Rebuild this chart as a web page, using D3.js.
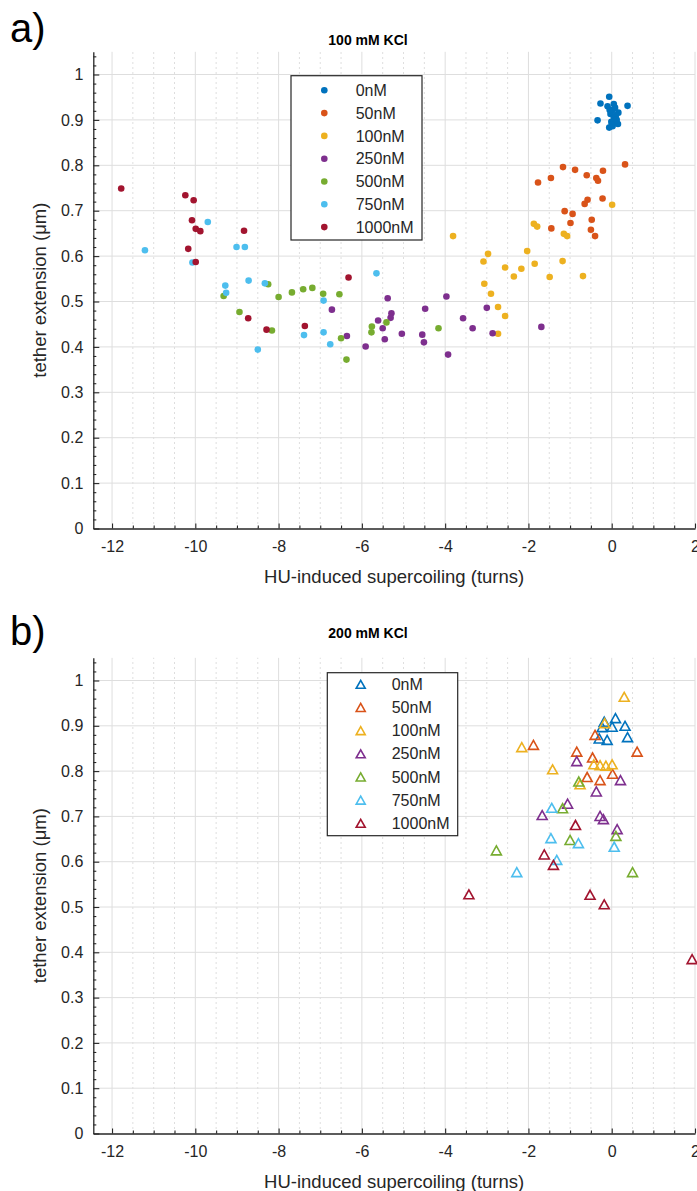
<!DOCTYPE html>
<html><head><meta charset="utf-8">
<script src="https://cdn.jsdelivr.net/npm/d3@7"></script>
<style>
html,body{margin:0;padding:0;background:#fff;}
svg{display:block;}
text{font-family:"Liberation Sans",Arial,Helvetica,sans-serif;}
</style></head>
<body>
<svg id="chart" width="697" height="1191"></svg>
<script>
// ---------- data ----------
const seriesNames = ["0nM","50nM","100nM","250nM","500nM","750nM","1000nM"];
const seriesColors = ["#0072BD","#D95319","#EDB120","#7E2F8E","#77AC30","#4DBEEE","#A2142F"];
const xTicks = [-12,-10,-8,-6,-4,-2,0,2];
const yTicks = [0,0.1,0.2,0.3,0.4,0.5,0.6,0.7,0.8,0.9,1];
const titles = ["100 mM KCl","200 mM KCl"];
const panelLabels = ["a)","b)"];
const xLabel = "HU-induced supercoiling (turns)";
const yLabel = "tether extension (μm)";

// Panel a (100 mM KCl), dots
const a0 = [[-0.06,0.951],[-0.27,0.936],[-0.10,0.930],[0.05,0.935],[0.38,0.931],[0.02,0.921],[0.16,0.916],[-0.03,0.913],[0.05,0.905],[-0.34,0.899],[0.07,0.898],[0.15,0.891],[-0.06,0.883],[0.02,0.886],[-0.01,0.896],[0.10,0.910],[-0.05,0.922],[0.12,0.900],[0.0,0.889],[0.08,0.927]];
const a50 = [[0.32,0.802],[-1.17,0.796],[-0.88,0.790],[-0.21,0.788],[-0.60,0.778],[-1.46,0.772],[-0.37,0.772],[-0.33,0.766],[-1.77,0.762],[-0.58,0.724],[-0.65,0.715],[-0.22,0.727],[-1.13,0.699],[-0.94,0.693],[-0.48,0.680],[-0.99,0.673],[-1.45,0.661],[-0.50,0.658],[-0.40,0.644]];
const a100 = [[0.01,0.713],[-1.87,0.671],[-1.79,0.665],[-1.15,0.649],[-1.07,0.644],[-3.81,0.644],[-2.97,0.605],[-3.08,0.588],[-2.03,0.611],[-2.56,0.575],[-2.17,0.572],[-1.85,0.583],[-2.35,0.555],[-1.49,0.554],[-1.18,0.589],[-0.69,0.556],[-3.06,0.539],[-2.90,0.517],[-2.73,0.488],[-2.56,0.468],[-2.73,0.429]];
const a250 = [[-6.72,0.482],[-6.36,0.424],[-5.91,0.401],[-5.38,0.507],[-5.61,0.458],[-5.50,0.441],[-5.45,0.417],[-5.29,0.474],[-5.31,0.464],[-5.04,0.429],[-4.55,0.427],[-4.51,0.410],[-4.48,0.484],[-3.97,0.511],[-3.93,0.383],[-3.57,0.463],[-3.34,0.441],[-3.00,0.486],[-2.86,0.430],[-1.69,0.444]];
const a500 = [[-9.32,0.512],[-8.25,0.538],[-8.00,0.510],[-7.68,0.520],[-7.41,0.527],[-7.19,0.530],[-6.93,0.517],[-6.54,0.516],[-8.94,0.477],[-8.16,0.436],[-6.50,0.419],[-6.37,0.372],[-5.76,0.445],[-5.77,0.432],[-5.41,0.454],[-4.16,0.441]];
const a750 = [[-9.70,0.675],[-11.21,0.613],[-10.07,0.586],[-9.01,0.620],[-8.81,0.620],[-5.65,0.562],[-9.28,0.535],[-9.26,0.519],[-8.72,0.546],[-8.33,0.540],[-6.92,0.502],[-7.39,0.426],[-6.92,0.432],[-6.76,0.406],[-8.50,0.394]];
const a1000 = [[-11.78,0.749],[-10.24,0.734],[-10.04,0.723],[-10.08,0.679],[-9.99,0.660],[-9.88,0.655],[-8.83,0.656],[-10.17,0.616],[-9.99,0.587],[-6.32,0.553],[-8.73,0.463],[-8.29,0.438],[-7.37,0.446]];

// Panel b (200 mM KCl), open triangles
const b0 = [[-0.18,0.909],[0.09,0.917],[0.32,0.900],[-0.23,0.897],[0.01,0.898],[0.38,0.875],[-0.30,0.872],[-0.11,0.869]];
const b50 = [[-0.40,0.880],[-1.88,0.858],[0.61,0.843],[-0.84,0.843],[-0.46,0.830],[0.02,0.794],[-0.59,0.787],[-0.28,0.780]];
const b100 = [[0.30,0.964],[-0.17,0.906],[-2.16,0.853],[-0.43,0.815],[-0.28,0.813],[-0.14,0.812],[0.01,0.815],[-1.42,0.804],[-0.76,0.771]];
const b250 = [[-0.84,0.822],[0.21,0.780],[-0.37,0.755],[-1.06,0.728],[-1.67,0.703],[-0.28,0.701],[-0.20,0.694],[0.13,0.672]];
const b500 = [[-0.79,0.777],[-1.18,0.718],[-1.00,0.648],[0.10,0.657],[-2.77,0.625],[0.50,0.577]];
const b750 = [[-1.44,0.719],[-1.46,0.652],[-0.80,0.641],[0.06,0.633],[-1.32,0.604],[-2.28,0.577]];
const b1000 = [[-0.87,0.681],[-1.62,0.616],[-1.40,0.593],[-3.43,0.528],[-0.52,0.527],[-0.18,0.506],[1.93,0.385]];

const panelA = [a0,a50,a100,a250,a500,a750,a1000];
const panelB = [b0,b50,b100,b250,b500,b750,b1000];

// ---------- drawing ----------
const svg = d3.select("#chart");
svg.append("rect").attr("width",697).attr("height",1191).attr("fill","#fff");

const axisColor = "#262626";
const triPath = (w,h) => `M0,${-h/2}L${w/2},${h/2}L${-w/2},${h/2}Z`;

function drawPanel(p) {
  const g = svg.append("g");
  const x = d3.scaleLinear().domain([-12.45, 2]).range([93.3, 695]);
  const y = d3.scaleLinear().domain([0, 1.05]).range([p.y0, p.y0 - 1.05*p.unit]);
  const [xl, xr] = x.range();
  const yb = y(0), yt = y(1.05);

  // minor x grid (dotted)
  const xMinor = d3.range(-12, 2.01, 0.5).filter(v => Math.abs(v/2 - Math.round(v/2)) > 1e-6);
  g.append("g").selectAll("line").data(xMinor).join("line")
    .attr("x1", d => x(d)).attr("x2", d => x(d)).attr("y1", yb).attr("y2", yt)
    .attr("stroke", "#bdbdbd").attr("stroke-width", 1).attr("stroke-dasharray", "1,4");
  // major grid
  g.append("g").selectAll("line").data(xTicks).join("line")
    .attr("x1", d => x(d)).attr("x2", d => x(d)).attr("y1", yb).attr("y2", yt)
    .attr("stroke", "#dedede").attr("stroke-width", 1);
  g.append("g").selectAll("line").data(yTicks.filter(v => v > 0)).join("line")
    .attr("x1", xl).attr("x2", xr).attr("y1", d => y(d)).attr("y2", d => y(d))
    .attr("stroke", "#dedede").attr("stroke-width", 1);

  // axes (ticks inside)
  const xAxis = d3.axisBottom(x).tickValues(xTicks).tickFormat(d => String(d)).tickSizeInner(-5).tickSizeOuter(0).tickPadding(12);
  const xa = g.append("g").attr("transform", `translate(0,${yb})`).call(xAxis);
  const xMinorAxis = d3.axisBottom(x).tickValues(xMinor).tickFormat("").tickSizeInner(-3).tickSizeOuter(0);
  const xma = g.append("g").attr("transform", `translate(0,${yb})`).call(xMinorAxis);
  xma.select(".domain").remove();

  const yAxis = d3.axisLeft(y).tickValues(yTicks).tickFormat(d => String(+d.toFixed(1))).tickSizeInner(-6).tickSizeOuter(0).tickPadding(10);
  const ya = g.append("g").attr("transform", `translate(${xl},0)`).call(yAxis);
  const yMinor = d3.range(0.02, 1.05, 0.02).filter(v => Math.abs(v*10 - Math.round(v*10)) > 1e-6);
  const yMinorAxis = d3.axisLeft(y).tickValues(yMinor).tickFormat("").tickSizeInner(-3).tickSizeOuter(0);
  const yma = g.append("g").attr("transform", `translate(${xl},0)`).call(yMinorAxis);
  yma.select(".domain").remove();

  [xa, ya, xma, yma].forEach(a => {
    a.selectAll(".domain").attr("stroke", axisColor).attr("stroke-width", 1.3);
    a.selectAll(".tick line").attr("stroke", axisColor).attr("stroke-width", 1.1);
    a.selectAll("text").attr("fill", axisColor).attr("font-size", 16)
      .attr("font-family", '"Liberation Sans",Arial,sans-serif');
  });

  // data
  p.data.forEach((ser, i) => {
    const sg = g.append("g");
    if (p.marker === "dot") {
      sg.selectAll("circle").data(ser).join("circle")
        .attr("cx", d => x(d[0])).attr("cy", d => y(d[1])).attr("r", 3.3)
        .attr("fill", seriesColors[i]);
    } else {
      sg.selectAll("path").data(ser).join("path")
        .attr("transform", d => `translate(${x(d[0])},${y(d[1])})`)
        .attr("d", triPath(10, 9)).attr("fill", "none")
        .attr("stroke", seriesColors[i]).attr("stroke-width", 1.6);
    }
  });

  // title
  g.append("text").attr("x", 368).attr("y", p.titleY).attr("text-anchor", "middle")
    .attr("font-size", 14).attr("font-weight", "bold").attr("fill", "#000").text(p.title);
  // x label
  g.append("text").attr("x", (xl + xr)/2).attr("y", yb + 54).attr("text-anchor", "middle")
    .attr("font-size", 18.5).attr("fill", axisColor).text(xLabel);
  // y label
  g.append("text").attr("transform", `translate(46,${(yb+yt)/2}) rotate(-90)`).attr("text-anchor", "middle")
    .attr("font-size", 18.5).attr("fill", axisColor).text(yLabel);
  // panel label
  g.append("text").attr("x", 10).attr("y", p.labelY).attr("font-size", 40)
    .attr("font-family", "Lato,'Open Sans',sans-serif").attr("fill", "#000").text(p.label);

  // legend
  const L = p.legend;
  const lg = g.append("g");
  lg.append("rect").attr("x", L.x0).attr("y", L.y0).attr("width", L.x1 - L.x0).attr("height", L.y1 - L.y0)
    .attr("fill", "#fff").attr("stroke", axisColor).attr("stroke-width", 1.2);
  seriesNames.forEach((name, i) => {
    const cy = L.row0 + i * L.dy;
    if (p.marker === "dot") {
      lg.append("circle").attr("cx", L.mx).attr("cy", cy).attr("r", 3.3).attr("fill", seriesColors[i]);
    } else {
      lg.append("path").attr("transform", `translate(${L.mx},${cy})`).attr("d", triPath(9, 8))
        .attr("fill", "none").attr("stroke", seriesColors[i]).attr("stroke-width", 1.6);
    }
    lg.append("text").attr("x", L.tx).attr("y", cy + 5.6).attr("font-size", 16).attr("fill", axisColor).text(name);
  });
}

drawPanel({y0: 528.5, unit: 454, data: panelA, marker: "dot", title: titles[0], titleY: 45, label: panelLabels[0], labelY: 42,
  legend: {x0: 291, x1: 422, y0: 75.7, y1: 240, mx: 324.3, tx: 355.7, row0: 90.3, dy: 22.8}});
drawPanel({y0: 1133.5, unit: 453, data: panelB, marker: "tri", title: titles[1], titleY: 638, label: panelLabels[1], labelY: 645,
  legend: {x0: 327.3, x1: 457.7, y0: 672.7, y1: 835.7, mx: 360.7, tx: 391.7, row0: 684.3, dy: 23.17}});
</script>
</body></html>
